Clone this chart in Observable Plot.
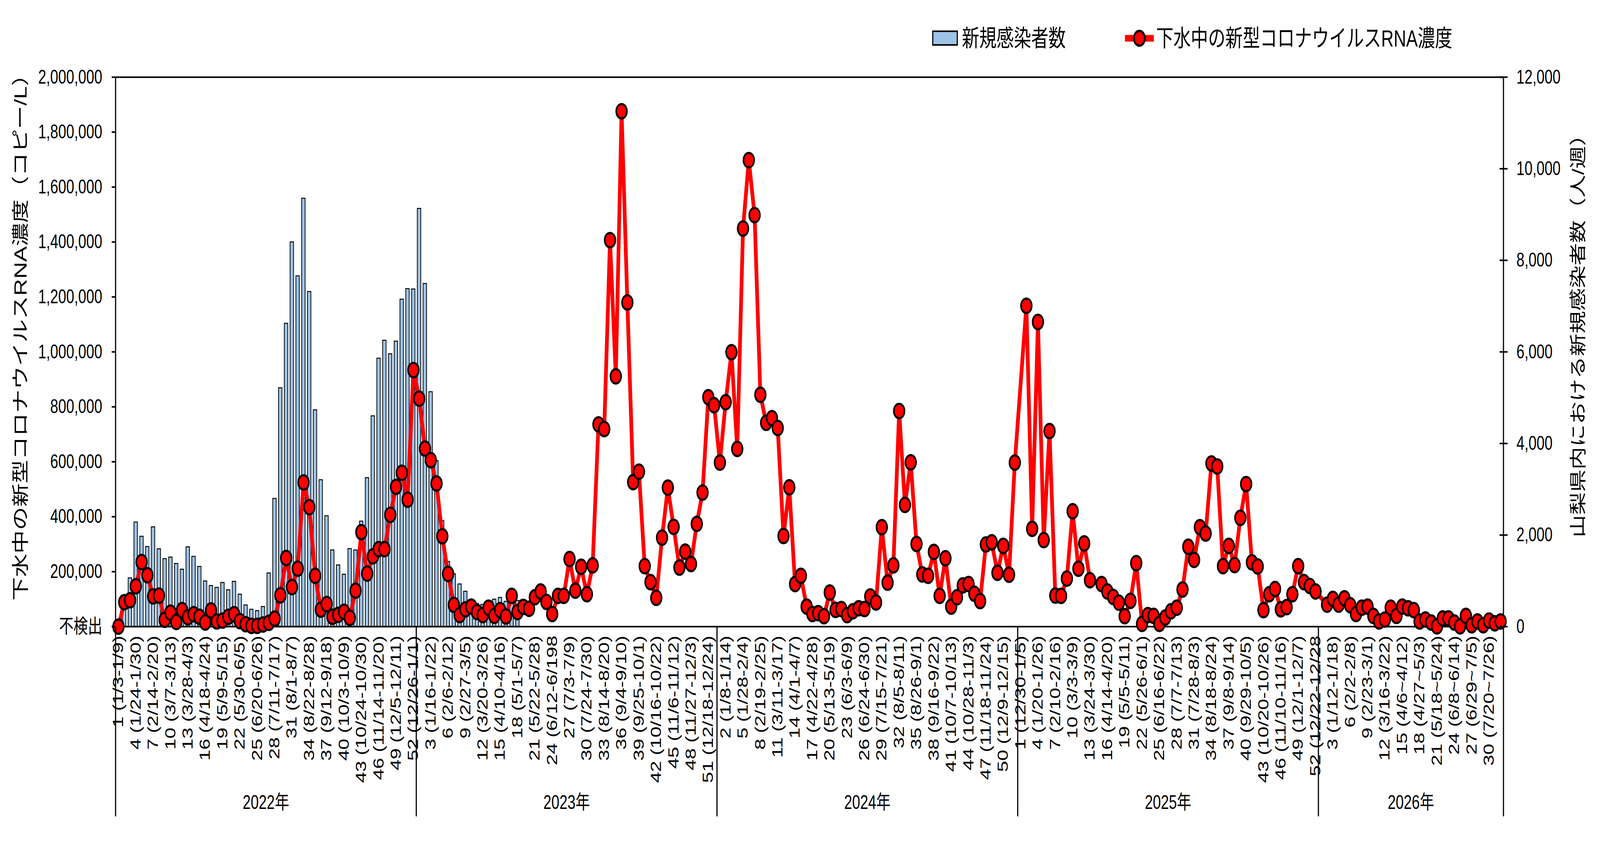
<!DOCTYPE html>
<html>
<head>
<meta charset="utf-8">
<script src="https://cdn.jsdelivr.net/npm/d3@7"></script>
<script src="https://cdn.jsdelivr.net/npm/@observablehq/plot@0.6"></script>
<style>
  html, body { margin: 0; padding: 0; background: #ffffff; width: 100%; height: 100%; overflow: hidden; }
  #chart { width: 100vw; height: 100vh; overflow: hidden; }
  #chart svg { display: block; }
</style>
</head>
<body>
<div id="chart"></div>
<script>
// ---------------- data ----------------
const years = [2022, 2023, 2024, 2025, 2026];
const weeksPerYear = [52, 52, 52, 52, 32];

// wastewater SARS-CoV-2 RNA concentration (thousand copies/L), null = no sample
const rna2022 = [0,89,96,147,235,187,110,113,25,51, 17,60,34,45,36,15,59,19,22,36,
  45,20,9,3,3,8,14,29,114,250, 144,211,525,435,185,62,82,36,43,54,
  32,131,344,193,256,282,282,407,509,560, 462,934];
const rna2023 = [830,648,606,521,329,192,79,42,63,73, 53,42,69,39,60,37,112,53,72,65,
  107,128,90,46,112,112,246,131,218,118, 223,736,719,1407,911,1876,1180,526,564,220,
  162,105,324,506,363,215,273,228,374,488, 835,806];
const rna2024 = [597,817,999,647,1449,1698,1498,844,742,759, 723,330,507,155,185,73,46,49,38,124,
  61,64,42,56,67,64,110,88,362,160, 223,785,443,598,301,190,185,272,112,249,
  73,107,150,155,120,93,299,307,196,294, 189,597];
const rna2025 = [null,1168,356,1109,315,712,113,112,175,420, 211,303,169,null,155,128,108,87,38,94,
  231,10,42,39,10,33,56,69,135,291, 243,362,339,594,583,220,294,224,396,519,
  234,219,60,118,137,63,71,118,220,162, 148,128];
const rna2026 = [null,80,101,80,103,78,46,69,73,39, 19,26,69,39,73,67,60,19,26,15,
  1,30,30,15,1,39,5,19,5,22, 12,19];

// new confirmed cases in Yamanashi (persons/week)
const cases2022 = [60,450,1060,2280,1970,1745,2175,1695,1481,1515, 1375,1250,1740,1530,1310,993,893,853,960,800,
  985,705,470,375,345,435,1168,2796,5213,6620, 8398,7657,9352,7315,4731,3204,2417,1670,1343,1140,
  1700,1670,2300,3250,4600,5858,6250,5954,6231,7148, 7378,7370];
const cases2023 = [9130,7490,5127,3622,2309,1418,1151,928,768,560, 500,480,530,596,633,548,560,566];

// x tick labels (every third week)
const tickLabels = [
  "1 (1/3-1/9)","4 (1/24-1/30)","7 (2/14-2/20)","10 (3/7-3/13)","13 (3/28-4/3)","16 (4/18-4/24)",
  "19 (5/9-5/15)","22 (5/30-6/5)","25 (6/20-6/26)","28 (7/11-7/17)","31 (8/1-8/7)","34 (8/22-8/28)",
  "37 (9/12-9/18)","40 (10/3-10/9)","43 (10/24-10/30)","46 (11/14-11/20)","49 (12/5-12/11)","52 (12/26-1/1)",
  "3 (1/16-1/22)","6 (2/6-2/12)","9 (2/27-3/5)","12 (3/20-3/26)","15 (4/10-4/16)","18 (5/1-5/7)",
  "21 (5/22-5/28)","24 (6/12-6/198","27 (7/3-7/9)","30 (7/24-7/30)","33 (8/14-8/20)","36 (9/4-9/10)",
  "39 (9/25-10/1)","42 (10/16-10/22)","45 (11/6-11/12)","48 (11/27-12/3)","51 (12/18-12/24)",
  "2 (1/8-1/14)","5 (1/28-2/4)","8 (2/19-2/25)","11 (3/11-3/17)","14 (4/1-4/7)","17 (4/22-4/28)",
  "20 (5/13-5/19)","23 (6/3-6/9)","26 (6/24-6/30)","29 (7/15-7/21)","32 (8/5-8/11)","35 (8/26-9/1)",
  "38 (9/16-9/22)","41 (10/7-10/13)","44 (10/28-11/3)","47 (11/18-11/24)","50 (12/9-12/15)",
  "1 (12/30-1/5)","4 (1/20-1/26)","7 (2/10-2/16)","10 (3/3-3/9)","13 (3/24-3/30)","16 (4/14-4/20)",
  "19 (5/5-5/11)","22 (5/26-6/1)","25 (6/16-6/22)","28 (7/7-7/13)","31 (7/28-8/3)","34 (8/18-8/24)",
  "37 (9/8-9/14)","40 (9/29-10/5)","43 (10/20-10/26)","46 (11/10-11/16)","49 (12/1-12/7)","52 (12/22-12/28",
  "3 (1/12-1/18)","6 (2/2-2/8)","9 (2/23-3/1)","12 (3/16-3/22)","15 (4/6~4/12)","18 (4/27~5/3)",
  "21 (5/18~5/24)","24 (6/8~6/14)","27 (6/29~7/5)","30 (7/20~7/26)"
];
const leftTicks = [0,200000,400000,600000,800000,1000000,1200000,1400000,1600000,1800000,2000000];
const rightTicks = [0,2000,4000,6000,8000,10000,12000];
const leftMax = 2000000;
const rightMax = 12000;

const leftTitle = "下水中の新型コロナウイルスRNA濃度（コピー/L）";
const rightTitle = "山梨県内における新規感染者数（人/週）";
const legendBar = "新規感染者数";
const legendLine = "下水中の新型コロナウイルスRNA濃度";

// ---------------- build rows ----------------
const rnaByYear = [rna2022, rna2023, rna2024, rna2025, rna2026];
const casesByYear = [cases2022, cases2023, [], [], []];
const rows = [];
years.forEach((yr, j) => {
  for (let w = 1; w <= weeksPerYear[j]; w++) {
    const r = rnaByYear[j][w - 1];
    const c = casesByYear[j][w - 1];
    rows.push({key: `${yr}-${w}`, year: yr, week: w,
      rna: r == null ? null : r * 1000,
      cases: c == null ? null : c});
  }
});
const categories = rows.map(d => d.key);
const lineRows = rows.filter(d => d.rna != null);
const barRows = rows.filter(d => d.cases != null);
const k = leftMax / rightMax;

const tickKeys = categories.filter((_, i) => i % 3 === 0);
const labelOf = new Map(tickKeys.map((key, i) => [key, tickLabels[i]]));
const yearFirst = years.map(y => `${y}-1`);
const yearLast = [categories[categories.length - 1]];
const yearMid = years.map((y, j) => `${y}-${weeksPerYear[j] / 2 + 1}`);

// ---------------- layout ----------------
const W = 5544, H = 2216;
const ML = 400, MR = 335, MT = 197, MB = 613;
const step = (W - ML - MR) / categories.length;
const FONT = "'Liberation Sans', Arial, 'Noto Sans CJK JP', sans-serif";

const chart = Plot.plot({
  width: W, height: H,
  marginLeft: ML, marginRight: MR, marginTop: MT, marginBottom: MB,
  style: {fontFamily: FONT, fontSize: "50px", color: "black", background: "white", overflow: "hidden"},
  x: {type: "band", domain: categories, padding: 0, round: false},
  y: {domain: [0, leftMax]},
  marks: [
    Plot.barY(barRows, {x: "key", y: d => d.cases * k, fill: "#9DC3E6", stroke: "black", strokeWidth: 2.5, insetLeft: 4, insetRight: 4}),
    Plot.frame({stroke: "black", strokeWidth: 4}),
    Plot.line(lineRows, {x: "key", y: "rna", stroke: "#FF0000", strokeWidth: 13, strokeLinejoin: "round"}),
    Plot.dot(lineRows, {x: "key", y: "rna", r: 18.5, fill: "#FF0000", stroke: "black", strokeWidth: 5.5}),
    Plot.axisX(tickKeys, {anchor: "bottom", tickFormat: d => labelOf.get(d), tickRotate: -90, tickSize: 0, tickPadding: 23, fontSize: 51, label: null}),
    Plot.axisY(leftTicks, {anchor: "left", tickFormat: d => d === 0 ? "不検出" : d3.format(",")(d), tickSize: 13, tickPadding: 33, strokeWidth: 4, fontSize: 50, label: null}),
    Plot.axisY(rightTicks.map(v => v * k), {anchor: "right", tickFormat: d => d3.format(",")(Math.round(d / k)), tickSize: 28, insetRight: 14, tickPadding: 31, strokeWidth: 4, fontSize: 50, label: null}),
    Plot.ruleX(yearFirst, {x: d => d, dx: -step / 2, insetTop: H - MT - MB, insetBottom: -486, stroke: "black", strokeWidth: 4}),
    Plot.ruleX(yearLast, {x: d => d, dx: step / 2, insetTop: H - MT - MB, insetBottom: -486, stroke: "black", strokeWidth: 4}),
    Plot.text(yearMid, {x: d => d, text: (d, i) => `${years[i]}年`, frameAnchor: "bottom", dx: -step / 2, dy: 450, fontSize: 50, lineAnchor: "middle"}),
    Plot.text([leftTitle], {text: d => d, frameAnchor: "left", dx: -328, dy: -52, rotate: -90, textAnchor: "middle", lineAnchor: "middle", fontSize: 60}),
    Plot.text([rightTitle], {text: d => d, frameAnchor: "right", dx: 260, dy: -55, rotate: -90, textAnchor: "middle", lineAnchor: "middle", fontSize: 58})
  ]
});

// ---------------- legend (top, inside the svg) ----------------
const svg = d3.select(chart);
const lg = svg.append("g").attr("font-family", FONT).attr("font-size", 60).attr("text-anchor", "start");
lg.append("rect").attr("x", 3232).attr("y", 80).attr("width", 85).attr("height", 35)
  .attr("fill", "#9DC3E6").attr("stroke", "black").attr("stroke-width", 4);
lg.append("text").attr("x", 3333).attr("y", 98).attr("dominant-baseline", "central")
  .attr("text-anchor", "start").text(legendBar);
lg.append("line").attr("x1", 3898).attr("x2", 3998).attr("y1", 98).attr("y2", 98)
  .attr("stroke", "#FF0000").attr("stroke-width", 17);
lg.append("circle").attr("cx", 3948).attr("cy", 98).attr("r", 19)
  .attr("fill", "#FF0000").attr("stroke", "black").attr("stroke-width", 6);
lg.append("text").attr("x", 4006).attr("y", 98).attr("dominant-baseline", "central")
  .attr("text-anchor", "start").text(legendLine);

// fill the window with the 5544x2216 drawing
svg.attr("viewBox", `0 0 ${W} ${H}`).attr("preserveAspectRatio", "none");
chart.style.width = "100vw";
chart.style.height = "100vh";
chart.style.maxWidth = "none";

document.getElementById("chart").appendChild(chart);
</script>
</body>
</html>
